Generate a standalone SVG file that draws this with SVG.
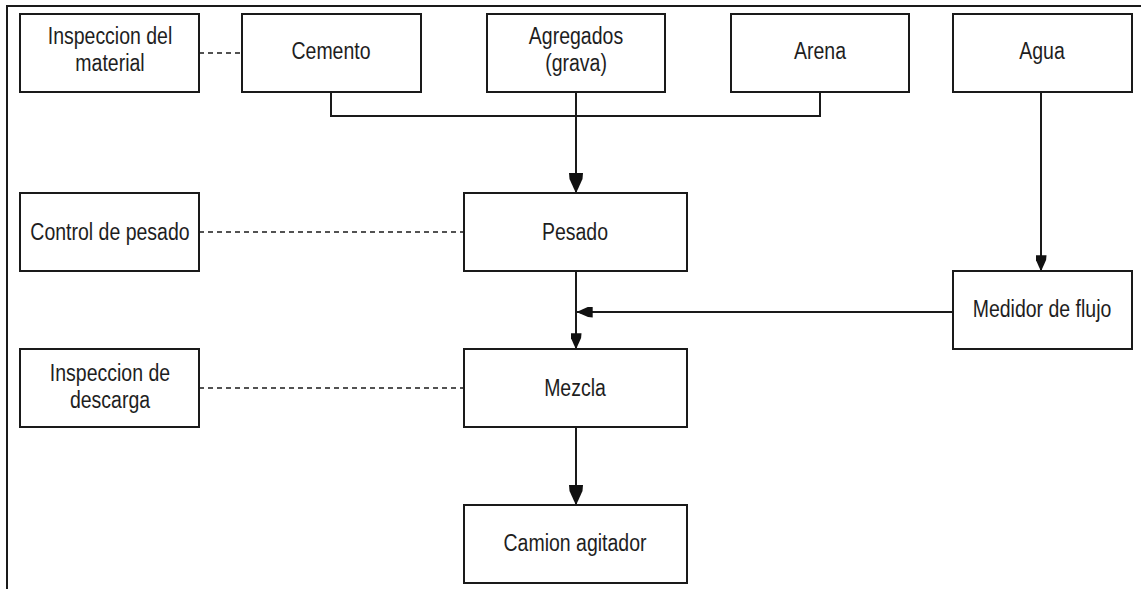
<svg xmlns="http://www.w3.org/2000/svg" width="1141" height="589" viewBox="0 0 1141 589">
<style>
.box{fill:#fff;stroke:#1a1a1a;stroke-width:2}
.ln{fill:none;stroke:#1a1a1a;stroke-width:2}
.dash{fill:none;stroke:#1a1a1a;stroke-width:1.6;stroke-dasharray:5 4}
.t{font-family:"Liberation Sans",Arial,sans-serif;font-size:19.5px;fill:#1e1e1e;text-anchor:middle}
</style>
<defs>
<marker id="big" viewBox="0 0 20 14" refX="20" refY="7" markerWidth="21" markerHeight="14" markerUnits="userSpaceOnUse" orient="auto">
<path d="M0,0 L6,0.5 L17,5.5 L20,7 L17,8.5 L6,13.5 L0,14 Z" fill="#111"/>
</marker>
<marker id="mid" viewBox="0 0 20 14" refX="20" refY="7" markerWidth="21" markerHeight="11" markerUnits="userSpaceOnUse" orient="auto">
<path d="M0,0 L6,0.5 L17,5.5 L20,7 L17,8.5 L6,13.5 L0,14 Z" fill="#111"/>
</marker>
<marker id="small" viewBox="0 0 20 14" refX="20" refY="7" markerWidth="16" markerHeight="11" markerUnits="userSpaceOnUse" orient="auto">
<path d="M0,0 L6,0.5 L17,5.5 L20,7 L17,8.5 L6,13.5 L0,14 Z" fill="#111"/>
</marker>
</defs>
<rect width="1141" height="589" fill="#fff"/>
<g id="frame">
<path d="M7,589 V6 H1141" class="ln"/>
</g>
<g id="connectors">
<path class="dash" d="M199,53 H242"/>
<path class="dash" d="M199,232 H464"/>
<path class="dash" d="M199,388 H464"/>
<path class="ln" d="M331,92 V116 H820 V92"/>
<path class="ln" d="M576,92 V193" marker-end="url(#big)"/>
<path class="ln" d="M1041,92 V271" marker-end="url(#mid)"/>
<path class="ln" d="M576,271 V349" marker-end="url(#small)"/>
<path class="ln" d="M953,312 H577" marker-end="url(#small)"/>
<path class="ln" d="M576,427 V505" marker-end="url(#big)"/>
</g>
<g id="inspeccion-material">
<rect class="box" x="20" y="14" width="179" height="78"/>
<text class="t" transform="translate(110,44) scale(1,1.18)">Inspeccion del</text>
<text class="t" transform="translate(110,71) scale(1,1.18)">material</text>
</g>
<g id="cemento">
<rect class="box" x="242" y="14" width="179" height="78"/>
<text class="t" transform="translate(331,59) scale(1,1.18)">Cemento</text>
</g>
<g id="agregados">
<rect class="box" x="487" y="14" width="178" height="78"/>
<text class="t" transform="translate(576,44) scale(1,1.18)">Agregados</text>
<text class="t" transform="translate(576,71) scale(1,1.18)">(grava)</text>
</g>
<g id="arena">
<rect class="box" x="731" y="14" width="178" height="78"/>
<text class="t" transform="translate(820,59) scale(1,1.18)">Arena</text>
</g>
<g id="agua">
<rect class="box" x="953" y="14" width="179" height="78"/>
<text class="t" transform="translate(1042,59) scale(1,1.18)">Agua</text>
</g>
<g id="control-pesado">
<rect class="box" x="20" y="193" width="179" height="78"/>
<text class="t" transform="translate(110,240) scale(1,1.18)">Control de pesado</text>
</g>
<g id="pesado">
<rect class="box" x="464" y="193" width="223" height="78"/>
<text class="t" transform="translate(575,240) scale(1,1.18)">Pesado</text>
</g>
<g id="medidor">
<rect class="box" x="953" y="271" width="179" height="78"/>
<text class="t" transform="translate(1042,317) scale(1,1.18)">Medidor de flujo</text>
</g>
<g id="inspeccion-descarga">
<rect class="box" x="20" y="349" width="179" height="78"/>
<text class="t" transform="translate(110,381) scale(1,1.18)">Inspeccion de</text>
<text class="t" transform="translate(110,408) scale(1,1.18)">descarga</text>
</g>
<g id="mezcla">
<rect class="box" x="464" y="349" width="223" height="78"/>
<text class="t" transform="translate(575,396) scale(1,1.18)">Mezcla</text>
</g>
<g id="camion">
<rect class="box" x="464" y="505" width="223" height="78"/>
<text class="t" transform="translate(575,551) scale(1,1.18)">Camion agitador</text>
</g>
</svg>
